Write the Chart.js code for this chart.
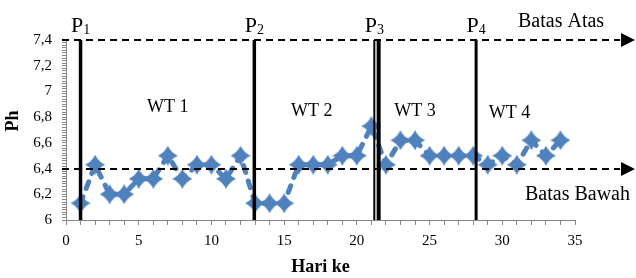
<!DOCTYPE html>
<html>
<head>
<meta charset="utf-8">
<script src="https://cdn.jsdelivr.net/npm/chart.js@4/dist/chart.umd.min.js"></script>
<style>
  html, body { margin: 0; padding: 0; background: #fff; }
  #wrap { width: 636px; height: 278px; }
</style>
</head>
<body>
<div id="wrap"><canvas id="chart" width="636" height="278"></canvas></div>
<script>
// hari ke- dan nilai pH harian
const days = [1, 2, 3, 4, 5, 6, 7, 8, 9, 10, 11, 12, 13, 14, 15, 16, 17,
              18, 19, 20, 21, 22, 23, 24, 25, 26, 27, 28, 29, 30, 31, 32, 33, 34];
const phValues = [6.13, 6.43, 6.2, 6.2, 6.32, 6.32, 6.5, 6.32, 6.43, 6.43, 6.32, 6.5, 6.13, 6.13, 6.13, 6.43, 6.43,
                  6.43, 6.5, 6.5, 6.73, 6.43, 6.62, 6.62, 6.5, 6.5, 6.5, 6.5, 6.43, 6.5, 6.43, 6.62, 6.5, 6.62];

// batas atas / bawah
const batasAtas = 7.4;
const batasBawah = 6.4;

// garis periode P1..P4 (P3 digambar dobel)
const periodLines = [1.0, 12.95, 21.2, 21.5, 28.2];
const periodLabelAt = [1.0, 12.95, 21.2, 28.2];
const periodNames = ['1', '2', '3', '4'];

// label WT
const wtNames = ['WT 1', 'WT 2', 'WT 3', 'WT 4'];
const wtAtX = [7, 16.9, 24, 30.5];
const wtAtY = [6.84, 6.81, 6.81, 6.79];

const yTicksMin = 6, yTicksMax = 7.4, yMajor = 0.2;
const xTicksMin = 0, xTicksMax = 35, xMajor = 5;

const BLUE = '#4F81BD';
const SERIF = "'Liberation Serif', 'Times New Roman', serif";

function makeMarker() {
    let c = document.createElement('canvas');
    c.width = 20;
    c.height = 20;
    let g = c.getContext('2d');
    g.fillStyle = BLUE;
    g.beginPath();
    g.moveTo(10, 0);
    g.quadraticCurveTo(13.2, 6.8, 20, 10);
    g.quadraticCurveTo(13.2, 13.2, 10, 20);
    g.quadraticCurveTo(6.8, 13.2, 0, 10);
    g.quadraticCurveTo(6.8, 6.8, 10, 0);
    g.fill();
    return c;
}

const annotasi = {
    id: 'annotasi',
    afterDatasetsDraw(chart) {
        const {ctx, scales: {x, y}} = chart;
        const W = chart.width;
        ctx.save();

        // garis putus-putus batas + panah
        ctx.strokeStyle = '#000';
        ctx.fillStyle = '#000';
        ctx.lineWidth = 2;
        [batasAtas, batasBawah].forEach(v => {
            let py = Math.round(y.getPixelForValue(v));
            ctx.setLineDash([7, 5]);
            ctx.beginPath();
            ctx.moveTo(62, py);
            ctx.lineTo(W - 16, py);
            ctx.stroke();
            ctx.setLineDash([]);
            ctx.beginPath();
            ctx.moveTo(W - 15, py - 7);
            ctx.lineTo(W - 1, py);
            ctx.lineTo(W - 15, py + 7);
            ctx.closePath();
            ctx.fill();
        });

        // garis periode
        const widths = [3.5, 3.5, 2, 4, 3];
        periodLines.forEach((d, i) => {
            let px = x.getPixelForValue(d);
            ctx.lineWidth = widths[i];
            ctx.beginPath();
            ctx.moveTo(px, y.getPixelForValue(yTicksMax));
            ctx.lineTo(px, y.getPixelForValue(yTicksMin));
            ctx.stroke();
        });

        // label P dengan subskrip
        ctx.textBaseline = 'alphabetic';
        ctx.textAlign = 'left';
        periodLabelAt.forEach((d, i) => {
            let px = x.getPixelForValue(d);
            ctx.font = '22px ' + SERIF;
            let wP = ctx.measureText('P').width;
            ctx.font = '14px ' + SERIF;
            let wS = ctx.measureText(periodNames[i]).width;
            let left = px - (wP + wS) / 2;
            ctx.font = '22px ' + SERIF;
            ctx.fillText('P', left, 32);
            ctx.font = '14px ' + SERIF;
            ctx.fillText(periodNames[i], left + wP, 34);
        });

        // label WT
        ctx.font = '18px ' + SERIF;
        ctx.textAlign = 'center';
        wtNames.forEach((t, i) => {
            ctx.fillText(t, x.getPixelForValue(wtAtX[i]), y.getPixelForValue(wtAtY[i]));
        });

        // label batas
        ctx.font = '20px ' + SERIF;
        ctx.textAlign = 'left';
        ctx.fillText('Batas Atas', 518, 27);
        ctx.fillText('Batas Bawah', 525, 200);

        // judul sumbu Y
        ctx.font = 'bold 18px ' + SERIF;
        ctx.textAlign = 'center';
        ctx.textBaseline = 'middle';
        ctx.translate(13, 121);
        ctx.rotate(-Math.PI / 2);
        ctx.fillText('Ph', 0, 0);

        ctx.restore();
    }
};

new Chart(document.getElementById('chart'), {
    type: 'line',
    data: {
        datasets: [{
            data: days.map((d, i) => ({x: d, y: phValues[i]})),
            borderColor: BLUE,
            borderWidth: 5,
            borderDash: [7, 9],
            borderCapStyle: 'round',
            tension: 0,
            fill: false,
            pointStyle: makeMarker(),
            pointRadius: 10
        }]
    },
    options: {
        responsive: false,
        animation: false,
        layout: {padding: {top: 40, right: 61, left: 0, bottom: 0}},
        plugins: {legend: {display: false}, tooltip: {enabled: false}},
        scales: {
            x: {
                type: 'linear',
                min: xTicksMin,
                max: xTicksMax,
                ticks: {
                    stepSize: 1,
                    autoSkip: false,
                    maxRotation: 0,
                    padding: 7,
                    color: '#000',
                    font: {family: SERIF, size: 15},
                    callback: v => (v % xMajor === 0 ? String(v) : '')
                },
                grid: {drawOnChartArea: false, tickLength: 5, color: '#868686'},
                border: {color: '#868686'},
                title: {
                    display: true,
                    text: 'Hari ke',
                    color: '#000',
                    font: {family: SERIF, size: 18, weight: 'bold'},
                    padding: {top: 0, bottom: 0}
                },
                afterFit: s => { s.height = 58; }
            },
            y: {
                min: yTicksMin,
                max: yTicksMax,
                ticks: {
                    stepSize: 0.02,
                    autoSkip: false,
                    padding: 10,
                    color: '#000',
                    font: {family: SERIF, size: 15},
                    callback: v => (Math.round(v * 100) % Math.round(yMajor * 100) === 0
                        ? String(Math.round(v * 10) / 10).replace('.', ',') : '')
                },
                grid: {drawOnChartArea: false, tickLength: 4, color: '#868686'},
                border: {color: '#868686'},
                afterFit: s => { s.width = 66; }
            }
        }
    },
    plugins: [annotasi]
});
</script>
</body>
</html>
